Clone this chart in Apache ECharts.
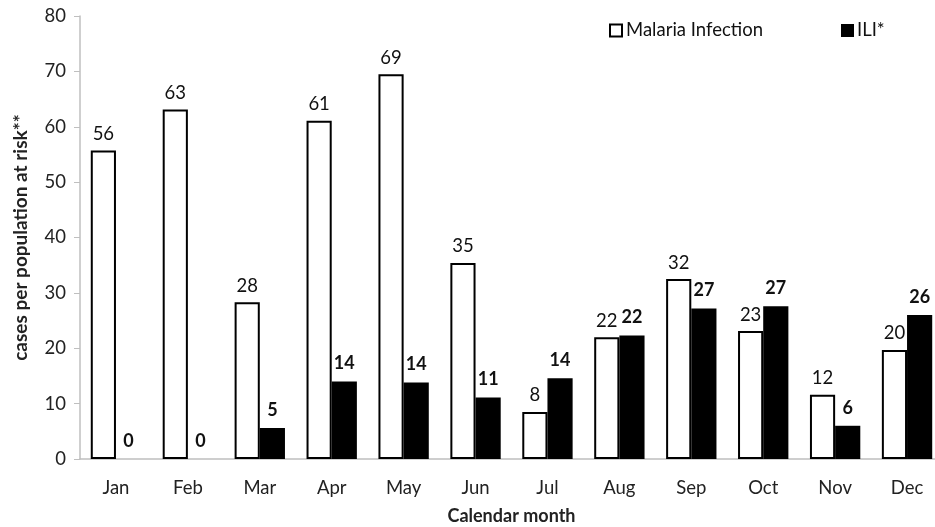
<!DOCTYPE html>
<html>
<head>
<meta charset="utf-8">
<script src="https://cdn.jsdelivr.net/npm/echarts@6/dist/echarts.min.js"></script>
<style>
  html, body { margin: 0; padding: 0; background: #fff; }
  #chart { width: 935px; height: 527px; }
</style>
</head>
<body>
<div id="chart"></div>
<script>
// months on the x axis
const months = ['Jan', 'Feb', 'Mar', 'Apr', 'May', 'Jun', 'Jul', 'Aug', 'Sep', 'Oct', 'Nov', 'Dec']
// bar heights
const malaria = [55.7, 63.1, 28.3, 61.1, 69.5, 35.4, 8.5, 22.0, 32.5, 23.1, 11.6, 19.7]
const ili = [0, 0, 5.6, 14.0, 13.8, 11.1, 14.6, 22.3, 27.2, 27.6, 6.0, 26.0]
// printed labels above the bars
const malariaLabels = [56, 63, 28, 61, 69, 35, 8, 22, 32, 23, 12, 20]
const iliLabels = [0, 0, 5, 14, 14, 11, 14, 22, 27, 27, 6, 26]
const yTicks = [0, 10, 20, 30, 40, 50, 60, 70, 80]

const font = 'Lato, "Open Sans", sans-serif'
const chart = echarts.init(document.getElementById('chart'))

chart.setOption({
  animation: false,
  textStyle: { fontFamily: font },
  legend: [
    {
      data: ['Malaria Infection'],
      left: 604, top: 16,
      icon: 'rect', itemWidth: 12, itemHeight: 12, itemGap: 5,
      textStyle: { fontSize: 18.5, color: '#111', fontFamily: font, padding: [0, 0, 0, -1] }
    },
    {
      data: ['ILI*'],
      left: 836, top: 16,
      icon: 'rect', itemWidth: 13, itemHeight: 13,
      textStyle: { fontSize: 18.5, color: '#111', fontFamily: font, padding: [0, 0, 0, -2] }
    }
  ],
  grid: { left: 80, right: -8, top: 16, bottom: 68, outerBoundsMode: 'none' },
  xAxis: {
    type: 'category',
    data: months,
    name: 'Calendar month',
    nameLocation: 'middle',
    nameGap: 48,
    nameTextStyle: { fontSize: 18, fontWeight: 'bold', color: '#222' },
    axisLine: { lineStyle: { color: '#bfbfbf', width: 1.5 } },
    axisTick: { length: 6, lineStyle: { color: '#bfbfbf' } },
    axisLabel: { fontSize: 18.5, color: '#222', margin: 20 }
  },
  yAxis: {
    type: 'value',
    min: yTicks[0],
    max: yTicks[yTicks.length - 1],
    interval: 10,
    name: 'cases per population at risk**',
    nameLocation: 'middle',
    nameGap: 50,
    nameTextStyle: { fontSize: 19, fontWeight: 'bold', color: '#222' },
    axisLine: { show: true, lineStyle: { color: '#bfbfbf', width: 1.5 } },
    axisTick: { show: true, length: 6, lineStyle: { color: '#bfbfbf' } },
    axisLabel: { fontSize: 18.5, color: '#222', margin: 14 },
    splitLine: { show: false }
  },
  series: [
    {
      name: 'Malaria Infection',
      type: 'bar',
      data: malaria,
      barGap: '0%',
      barCategoryGap: '30%',
      itemStyle: { color: '#fff', borderColor: '#000', borderWidth: 2 },
      label: {
        show: true, position: 'top', distance: 7,
        fontSize: 18.5, color: '#111',
        formatter: p => malariaLabels[p.dataIndex]
      }
    },
    {
      name: 'ILI*',
      type: 'bar',
      data: ili,
      itemStyle: { color: '#000', borderColor: '#000', borderWidth: 0 },
      label: {
        show: true, position: 'top', distance: 9,
        fontSize: 18, fontWeight: 'bold', color: '#111',
        formatter: p => iliLabels[p.dataIndex]
      }
    }
  ]
})
</script>
</body>
</html>
